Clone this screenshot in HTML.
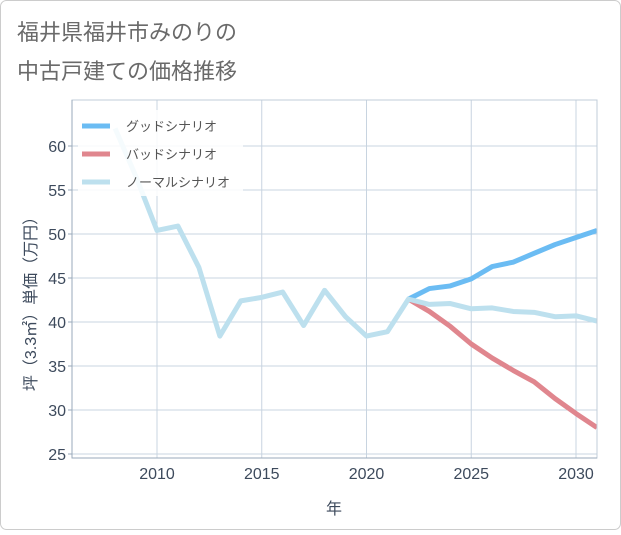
<!DOCTYPE html>
<html><head><meta charset="utf-8"><style>
body{margin:0;background:#fff;}
svg text{font-family:"Liberation Sans","Noto Sans CJK JP",sans-serif;}
</style></head><body>
<svg id="chart" width="621" height="530" xmlns="http://www.w3.org/2000/svg">
<rect x="0.5" y="0.5" width="620" height="529" rx="6" fill="#fff" stroke="#ccc"/>
<text x="17" y="40" font-size="22" fill="#6a6a6a">福井県福井市みのりの</text>
<text x="17" y="79" font-size="22" fill="#6a6a6a">中古戸建ての価格推移</text>
<g id="grid"></g>
<g id="plot"></g>
<g id="axes"></g>
<text x="334" y="514" font-size="16" fill="#3d4a5c" text-anchor="middle">年</text>
<text transform="translate(36,300) rotate(-90)" font-size="16" fill="#3d4a5c" text-anchor="middle">坪（3.3㎡）単価（万円）</text>
<g id="legend"></g>
</svg>
<script>
const normalYears=[2008,2009,2010,2011,2012,2013,2014,2015,2016,2017,2018,2019,2020,2021,2022,2023,2024,2025,2026,2027,2028,2029,2030,2031];
const normalValues=[62.0,56.5,50.4,50.9,46.2,38.4,42.4,42.8,43.4,39.6,43.6,40.6,38.4,38.9,42.6,42.0,42.1,41.5,41.6,41.2,41.1,40.6,40.7,40.1];
const futureYears=[2022,2023,2024,2025,2026,2027,2028,2029,2030,2031];
const goodValues=[42.6,43.8,44.1,44.9,46.3,46.8,47.8,48.8,49.6,50.4];
const badValues=[42.6,41.2,39.5,37.5,35.9,34.5,33.2,31.3,29.6,28.0];
const xTicks=[2010,2015,2020,2025,2030];
const yTicks=[25,30,35,40,45,50,55,60];
const legendLabels=["グッドシナリオ","バッドシナリオ","ノーマルシナリオ"];

const L=72,R=597,T=100,B=458;
const x=v=>157+(v-2010)*(576-157)/20;
const y=v=>146+(60-v)*(454-146)/35;
const NS="http://www.w3.org/2000/svg";
function mk(tag,attrs,parent){const e=document.createElementNS(NS,tag);for(const k in attrs)e.setAttribute(k,attrs[k]);parent.appendChild(e);return e;}
const grid=document.getElementById('grid'),plot=document.getElementById('plot'),axes=document.getElementById('axes'),legend=document.getElementById('legend');
xTicks.forEach(t=>{
  const l=mk('line',{x1:x(t),x2:x(t),y1:T,y2:B,stroke:'#c8d4e0','stroke-width':1},grid);
  
  
  const tx=mk('text',{x:x(t),y:B+21,'font-size':16,fill:'#3d4a5c','text-anchor':'middle'},axes);
  tx.textContent=t;
  
  
});
yTicks.forEach(t=>{
  const l=mk('line',{x1:L,x2:R,y1:y(t),y2:y(t),stroke:'#c8d4e0','stroke-width':1},grid);
  
  
  const tk=mk('line',{x1:L-4,x2:L,y1:y(t),y2:y(t),stroke:'#9aaabb'},axes);
  
  
  const tx=mk('text',{x:L-6,y:y(t)+6,'font-size':16,fill:'#3d4a5c','text-anchor':'end'},axes);
  tx.textContent=t;
  
  
});
const frame=mk('rect',{x:L,y:T,width:R-L,height:B-T,fill:'none',stroke:'#c0ccd8'},axes);


const ax=mk('polyline',{points:L+','+T+' '+L+','+B+' '+R+','+B,fill:'none',stroke:'#9aaabb'},axes);


const defs=mk('defs',{},plot);
const cp=mk('clipPath',{id:'clip'},defs);
mk('rect',{x:L,y:T,width:R-L,height:B-T},cp);
function line(xs,vs,color,name){
  const p=mk('polyline',{points:xs.map((yr,i)=>x(yr)+','+y(vs[i])).join(' '),fill:'none',stroke:color,'stroke-width':5,'stroke-linejoin':'round','clip-path':'url(#clip)'},plot);
  
  
}
line(futureYears,badValues,'#e0868e','bad-scenario-line');
line(futureYears,goodValues,'#6bbcf3','good-scenario-line');
line(normalYears,normalValues,'#bde0ee','normal-scenario-line');
const bg=mk('rect',{x:78,y:110,width:165,height:86,fill:'#fff',opacity:0.85},legend);


const colors=['#6bbcf3','#e0868e','#bde0ee'];
legendLabels.forEach((lab,i)=>{
  const yy=126+i*28;
  const s=mk('line',{x1:82,x2:110,y1:yy,y2:yy,stroke:colors[i],'stroke-width':5},legend);
  
  
  const t=mk('text',{x:126,y:yy+5,'font-size':13,fill:'#555'},legend);
  t.textContent=lab;
  
  
});
</script>
</body></html>
